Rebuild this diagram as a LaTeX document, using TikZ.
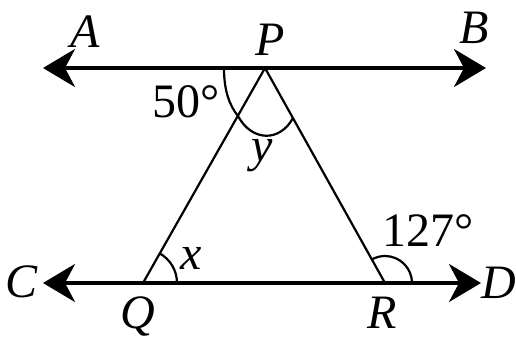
\documentclass[tikz,border=0pt]{standalone}
\usepackage{fontspec}
\setmainfont{Liberation Serif}
\usetikzlibrary{arrows.meta}
\begin{document}
\begin{tikzpicture}[x=0.5pt,y=-0.5pt,
  parline/.style={line width=1.6pt,{Stealth[length=16pt,width=19pt,inset=5pt]}-{Stealth[length=16pt,width=19pt,inset=5pt]}},
  side/.style={line width=1.1pt},
  angarc/.style={line width=1.1pt},
  lbl/.style={font=\fontsize{24}{24}\selectfont\itshape, inner sep=0pt},
  num/.style={font=\fontsize{24}{24}\selectfont, inner sep=0pt}]
\useasboundingbox (0,0) rectangle (516,343);
% points
\coordinate (P) at (265,68);
\coordinate (Q) at (143,283);
\coordinate (R) at (385,283);
\coordinate (A0) at (43,68);
\coordinate (B0) at (486,68);
\coordinate (C0) at (43,283);
\coordinate (D0) at (481,283);
% parallel lines
\draw[parline] (A0) -- (B0);
\draw[parline] (C0) -- (D0);
% triangle
\draw[side] (Q) -- (P) -- (R);
% angle marks
\coordinate (p1) at (224,68);
\coordinate (p2) at (238,116);
\coordinate (p3) at (293,118);
\draw[angarc] (p1) .. controls (224,92) and (230,106) .. (p2);
\draw[angarc] (p2) .. controls (252,142) and (280,142) .. (p3);
\draw[angarc] ([shift={(0:34)}]Q) arc[start angle=0, end angle=-60.8, radius=34];
\draw[angarc] ([shift={(0:27)}]R) arc[start angle=0, end angle=-119.2, radius=27];
% labels
\node[lbl] (lA) at (85,32) {A};
\node[lbl] (lB) at (474,28) {B};
\node[lbl] (lP) at (270,40) {P};
\node[lbl] (lC) at (22,282) {C};
\node[lbl] (lD) at (499,283) {D};
\node[lbl] (lQ) at (138,316) {Q};
\node[lbl] (lR) at (382,313) {R};
\node[num] (l50) at (186,102) {50°};
\node[lbl] (ly) at (262,156) {y};
\node[lbl] (lx) at (191,258) {x};
\node[num] (l127) at (428,231) {127°};
\end{tikzpicture}
\end{document}
